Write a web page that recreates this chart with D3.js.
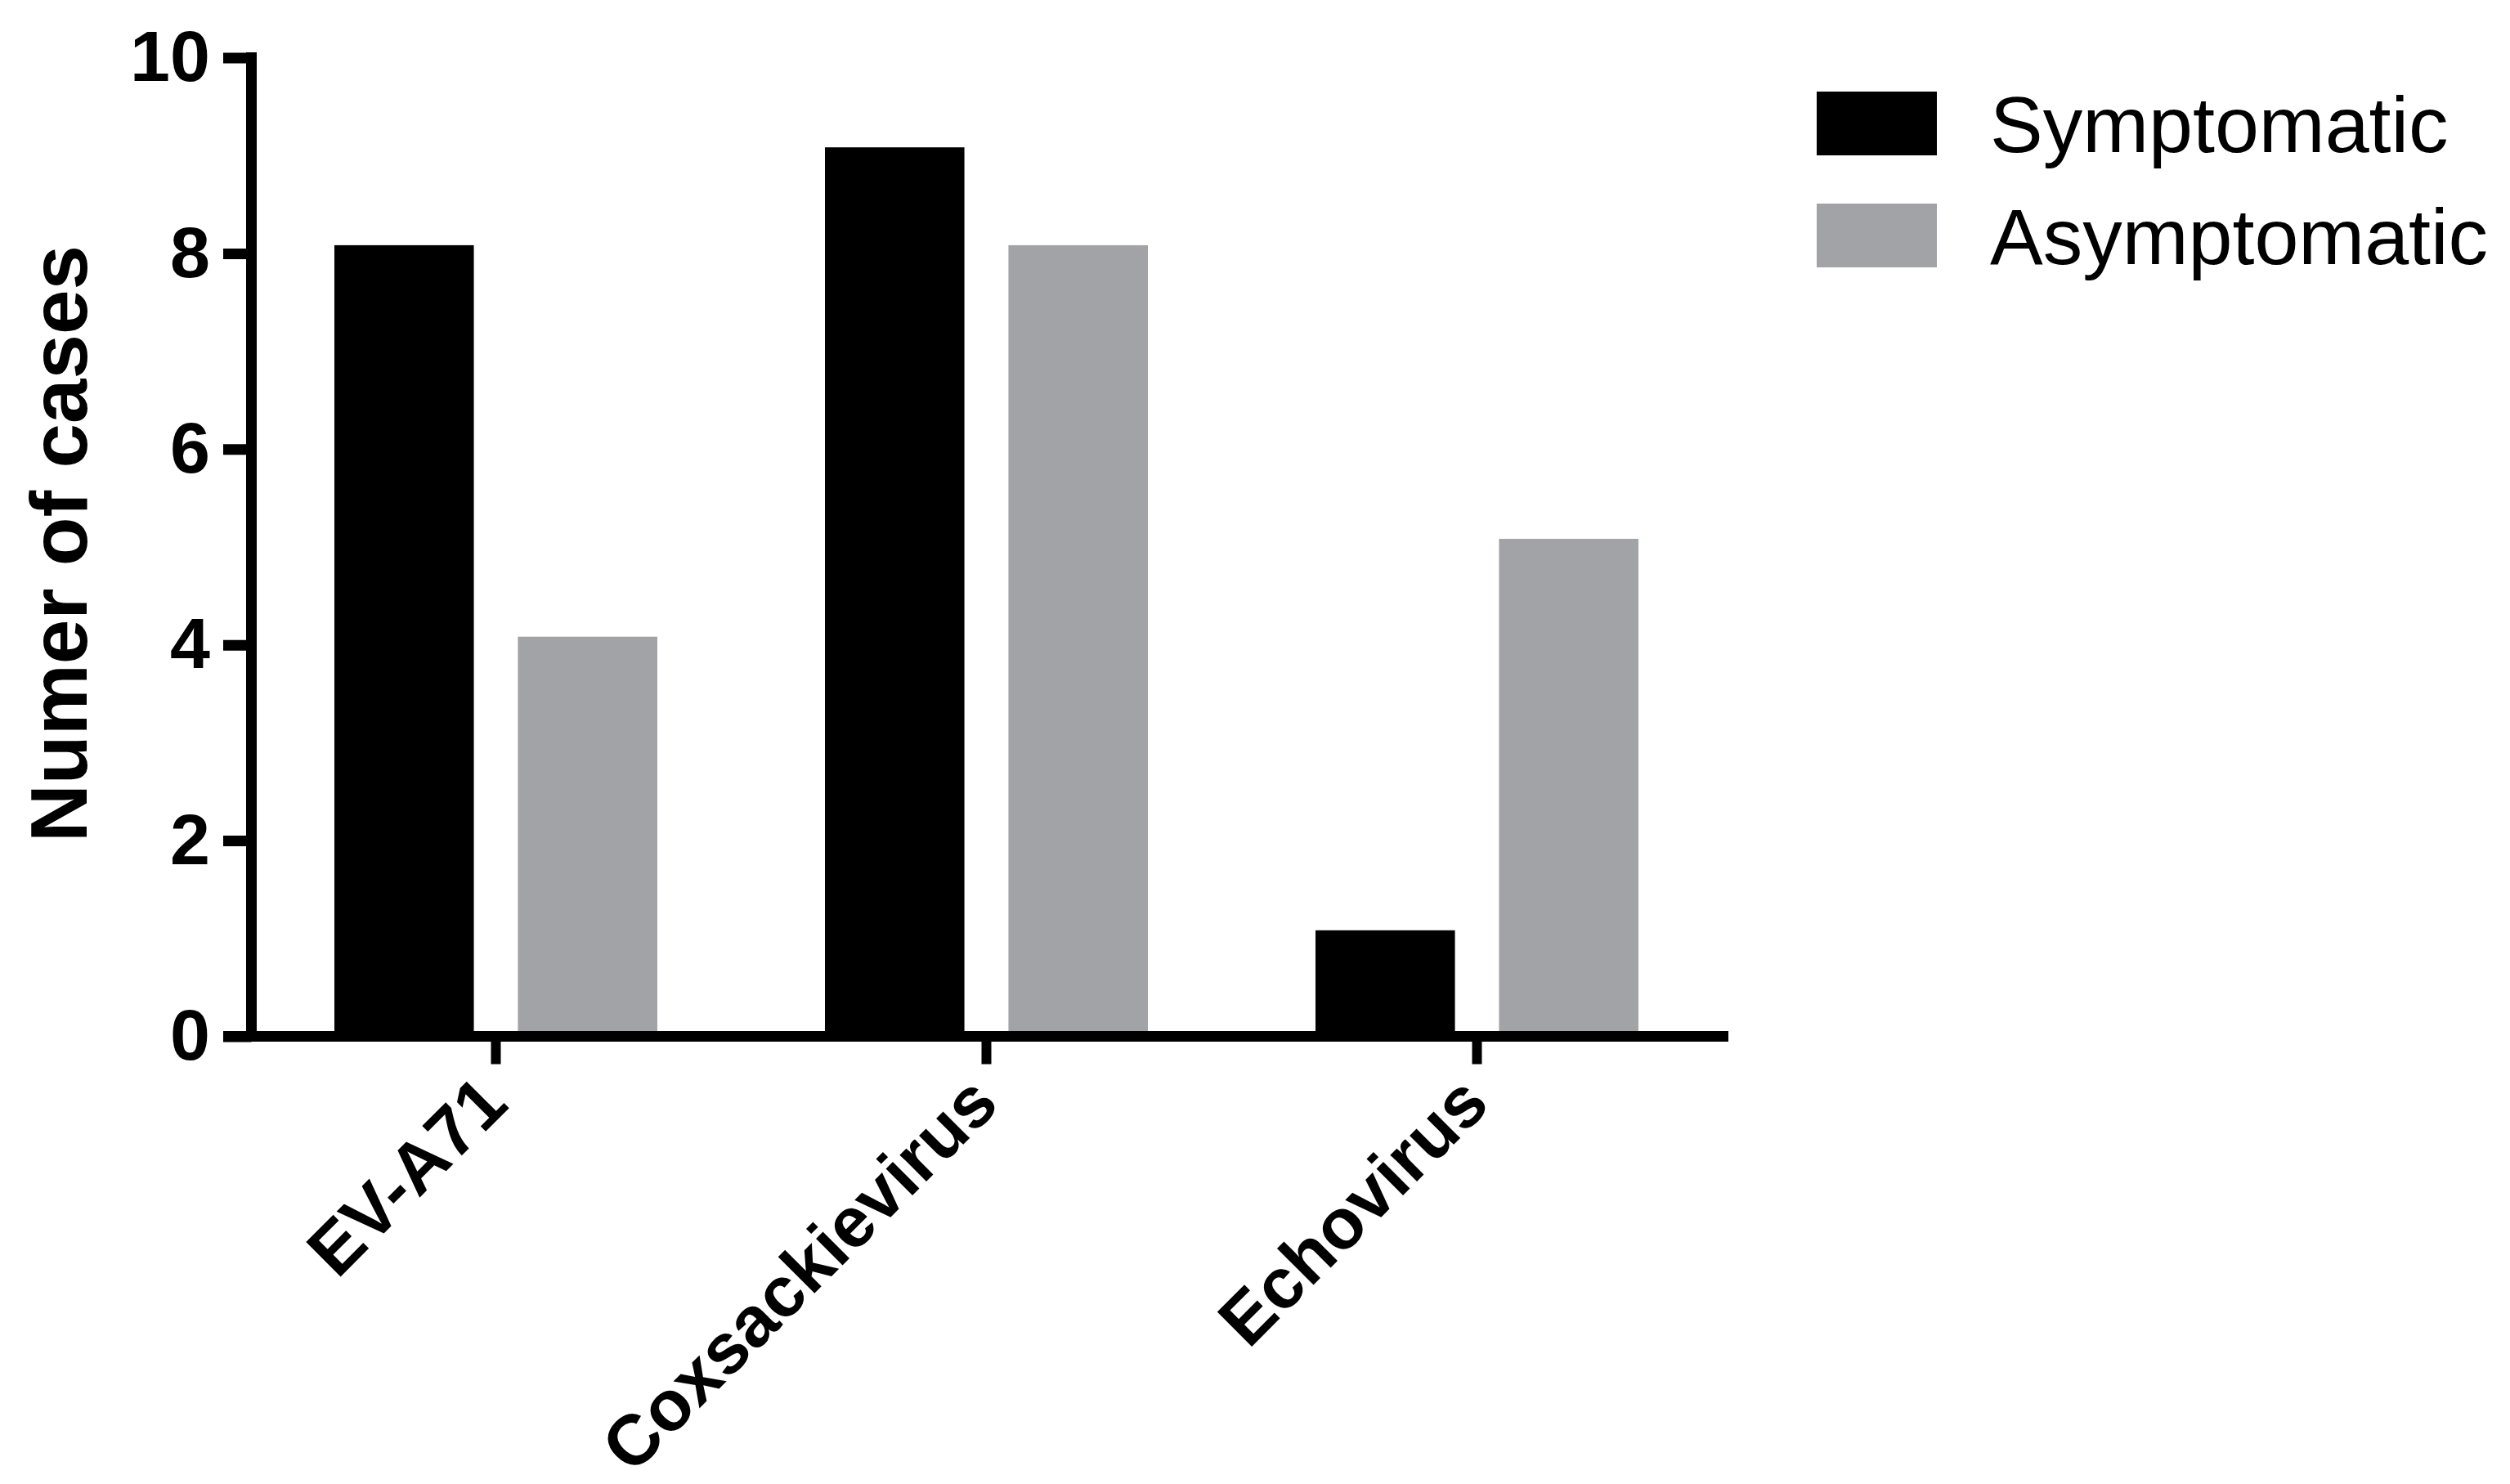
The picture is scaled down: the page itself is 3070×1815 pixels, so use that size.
<!DOCTYPE html>
<html>
<head>
<meta charset="utf-8">
<script src="https://cdn.jsdelivr.net/npm/d3@7"></script>
<style>
  html, body { margin: 0; padding: 0; background: #ffffff; }
  svg { display: block; }
</style>
</head>
<body>
<svg id="chart" width="3070" height="1815"></svg>
<script>
// ---- data ----
const categories = ["EV-A71", "Coxsackievirus", "Echovirus"];
const seriesNames = ["Symptomatic", "Asymptomatic"];
const symptomatic = [8, 9, 1];
const asymptomatic = [4, 8, 5];
const yTicks = [0, 2, 4, 6, 8, 10];
const yTitle = "Numer of cases";

// ---- styles ----
const colors = {"Symptomatic": "#000000", "Asymptomatic": "#a2a3a7"};
const FONT = "'Liberation Sans', Arial, Helvetica, sans-serif";
const axisW = 13;

const svg = d3.select("#chart");

const x0 = d3.scaleBand().domain(categories).range([306.5, 2106.5]).paddingInner(0).paddingOuter(0);
const x1 = d3.scaleBand().domain(seriesNames).range([102.5, 497.5]).paddingInner(0.24).paddingOuter(0);
const y = d3.scaleLinear().domain([0, 10]).range([1267.5, 70.5]);

const values = {"Symptomatic": symptomatic, "Asymptomatic": asymptomatic};
const barLift = 10;

// bars
const groups = svg.append("g").selectAll("g")
  .data(categories).join("g")
  .attr("transform", d => `translate(${x0(d)},0)`);
groups.selectAll("rect")
  .data((c, i) => seriesNames.map(s => ({s, v: values[s][i]})))
  .join("rect")
  .attr("x", d => x1(d.s))
  .attr("width", x1.bandwidth())
  .attr("y", d => y(d.v) - barLift)
  .attr("height", d => y(0) - y(d.v) + barLift)
  .attr("fill", d => colors[d.s]);

// y axis
const yAxis = svg.append("g")
  .attr("transform", "translate(307.5,0)")
  .call(d3.axisLeft(y).tickValues(yTicks).tickSize(34.5).tickSizeOuter(0).tickPadding(16).tickFormat(d3.format("d")));
yAxis.select(".domain")
  .attr("d", `M0,${y(10) - axisW/2}V${y(0) + axisW/2}`)
  .attr("stroke", "#000").attr("stroke-width", axisW);
yAxis.selectAll(".tick line").attr("stroke", "#000").attr("stroke-width", axisW);
yAxis.selectAll(".tick text")
  .attr("font-family", FONT).attr("font-weight", "bold").attr("font-size", 88).attr("fill", "#000");

// x axis
const xAxis = svg.append("g")
  .attr("transform", `translate(0,${y(0)})`)
  .call(d3.axisBottom(x0).tickSize(34).tickSizeOuter(0));
xAxis.select(".domain")
  .attr("d", "M273,0H2114")
  .attr("stroke", "#000").attr("stroke-width", axisW);
xAxis.selectAll(".tick line").attr("stroke", "#000").attr("stroke-width", 12);
xAxis.selectAll(".tick text")
  .attr("x", 0).attr("y", 0).attr("dy", 0)
  .attr("text-anchor", "end")
  .attr("transform", "translate(18,86) rotate(-45)")
  .attr("font-family", FONT).attr("font-weight", "bold").attr("font-size", 87).attr("fill", "#000");
svg.selectAll(".domain").attr("fill", "none");

// y title
svg.append("text")
  .attr("transform", "translate(106,665) rotate(-90)")
  .attr("text-anchor", "middle")
  .attr("font-family", FONT).attr("font-weight", "bold").attr("font-size", 98)
  .text(yTitle);

// legend
const legend = svg.append("g").selectAll("g")
  .data(seriesNames).join("g")
  .attr("transform", (d, i) => `translate(2222,${112 + i * 137})`);
legend.append("rect")
  .attr("width", 147).attr("height", 78)
  .attr("fill", d => colors[d]);
legend.append("text")
  .attr("x", 212).attr("y", 74)
  .attr("font-family", FONT).attr("font-size", 97).attr("fill", "#000")
  .text(d => d);
</script>
</body>
</html>
